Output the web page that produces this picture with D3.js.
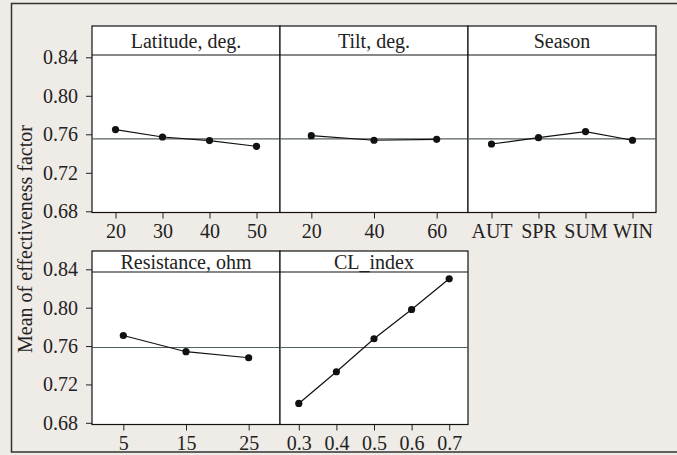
<!DOCTYPE html>
<html>
<head>
<meta charset="utf-8">
<script src="https://cdn.jsdelivr.net/npm/d3@7"></script>
<style>
  body { margin: 0; background: #efebe7; }
  svg { display: block; }
</style>
</head>
<body>
<script>
// main effects plot
var factorNames = ["Latitude, deg.", "Tilt, deg.", "Season", "Resistance, ohm", "CL_index"];

var latLevels = ["20", "30", "40", "50"];
var latMeans = [0.7649, 0.7572, 0.7535, 0.7475];

var tiltLevels = ["20", "40", "60"];
var tiltMeans = [0.7586, 0.7538, 0.7548];

var seasonLevels = ["AUT", "SPR", "SUM", "WIN"];
var seasonMeans = [0.7499, 0.7565, 0.7628, 0.7538];

var resLevels = ["5", "15", "25"];
var resMeans = [0.7710, 0.7541, 0.7478];

var clLevels = ["0.3", "0.4", "0.5", "0.6", "0.7"];
var clMeans = [0.7002, 0.7332, 0.7676, 0.7981, 0.8301];

var grandMean = [0.7552, 0.7585]; // reference line, top row / bottom row
var yTicks = [0.68, 0.72, 0.76, 0.80, 0.84];
var yLabel = "Mean of effectiveness factor";

var W = 677, H = 455;
var font = "'Liberation Serif', 'Times New Roman', serif";

var svg = d3.select('body').append('svg')
  .attr('width', W).attr('height', H);

// outer frame (right side runs off the page)
svg.append('rect')
  .attr('x', 11.5).attr('y', 3.5)
  .attr('width', 700).attr('height', 448.5)
  .attr('fill', '#efebe7')
  .attr('stroke', '#333').attr('stroke-width', 1.5);

// layout of the two rows
var rows = [
  {top: 26, head: 55, bottom: 212.5, y84: 57.3, y68: 211.3},
  {top: 251, head: 272, bottom: 424.5, y84: 269.3, y68: 422.8}
];
var colX = [92, 280, 468, 656];

var panels = [
  {name: factorNames[0], levels: latLevels, means: latMeans, row: 0, col: 0},
  {name: factorNames[1], levels: tiltLevels, means: tiltMeans, row: 0, col: 1},
  {name: factorNames[2], levels: seasonLevels, means: seasonMeans, row: 0, col: 2},
  {name: factorNames[3], levels: resLevels, means: resMeans, row: 1, col: 0},
  {name: factorNames[4], levels: clLevels, means: clMeans, row: 1, col: 1}
];

// y axes, one per row
rows.forEach(function(r, i) {
  r.y = d3.scaleLinear().domain([0.68, 0.84]).range([r.y68, r.y84]);
  var ax = svg.append('g')
    .attr('transform', 'translate(' + colX[0] + ',0)')
    .call(d3.axisLeft(r.y).tickValues(yTicks).tickFormat(d3.format('.2f'))
      .tickSize(6).tickPadding(8));
  ax.select('.domain').remove();
  ax.selectAll('line').attr('stroke', '#222');
  ax.selectAll('text')
    .attr('font-family', font).attr('font-size', 20).attr('fill', '#222');
});

panels.forEach(function(p) {
  var r = rows[p.row];
  var x0 = colX[p.col], x1 = colX[p.col + 1];
  var x = d3.scalePoint().domain(p.levels).range([x0, x1]).padding(0.5);
  var g = svg.append('g');

  // plot box
  g.append('rect')
    .attr('x', x0).attr('y', r.top)
    .attr('width', x1 - x0).attr('height', r.bottom - r.top)
    .attr('fill', '#fff').attr('stroke', '#111').attr('stroke-width', 1.2);

  // header strip
  g.append('line')
    .attr('x1', x0).attr('x2', x1)
    .attr('y1', r.head).attr('y2', r.head)
    .attr('stroke', '#111').attr('stroke-width', 1.2);
  g.append('text')
    .attr('x', (x0 + x1) / 2).attr('y', (r.top + r.head) / 2)
    .attr('dy', '0.35em')
    .attr('text-anchor', 'middle')
    .attr('font-family', font).attr('font-size', 20).attr('fill', '#222')
    .text(p.name);

  // grand mean reference
  g.append('line')
    .attr('x1', x0).attr('x2', x1)
    .attr('y1', r.y(grandMean[p.row])).attr('y2', r.y(grandMean[p.row]))
    .attr('stroke', '#55625c').attr('stroke-width', 1.2);

  var pts = p.levels.map(function(l, i) { return [l, p.means[i]]; });

  g.append('path')
    .datum(pts)
    .attr('fill', 'none').attr('stroke', '#111').attr('stroke-width', 1.2)
    .attr('d', d3.line()
      .x(function(d) { return x(d[0]); })
      .y(function(d) { return r.y(d[1]); }));

  g.selectAll('circle').data(pts).enter().append('circle')
    .attr('cx', function(d) { return x(d[0]); })
    .attr('cy', function(d) { return r.y(d[1]); })
    .attr('r', 3.6).attr('fill', '#111');

  var xa = svg.append('g')
    .attr('transform', 'translate(0,' + r.bottom + ')')
    .call(d3.axisBottom(x).tickSize(6).tickPadding(5));
  xa.select('.domain').remove();
  xa.selectAll('line').attr('stroke', '#222');
  xa.selectAll('text')
    .attr('font-family', font).attr('font-size', 20).attr('fill', '#222');
});

// y axis title
svg.append('text')
  .attr('transform', 'translate(25,239) rotate(-90)')
  .attr('dy', '0.35em')
  .attr('text-anchor', 'middle')
  .attr('font-family', font).attr('font-size', 20).attr('fill', '#222')
  .text(yLabel);
</script>
</body>
</html>
